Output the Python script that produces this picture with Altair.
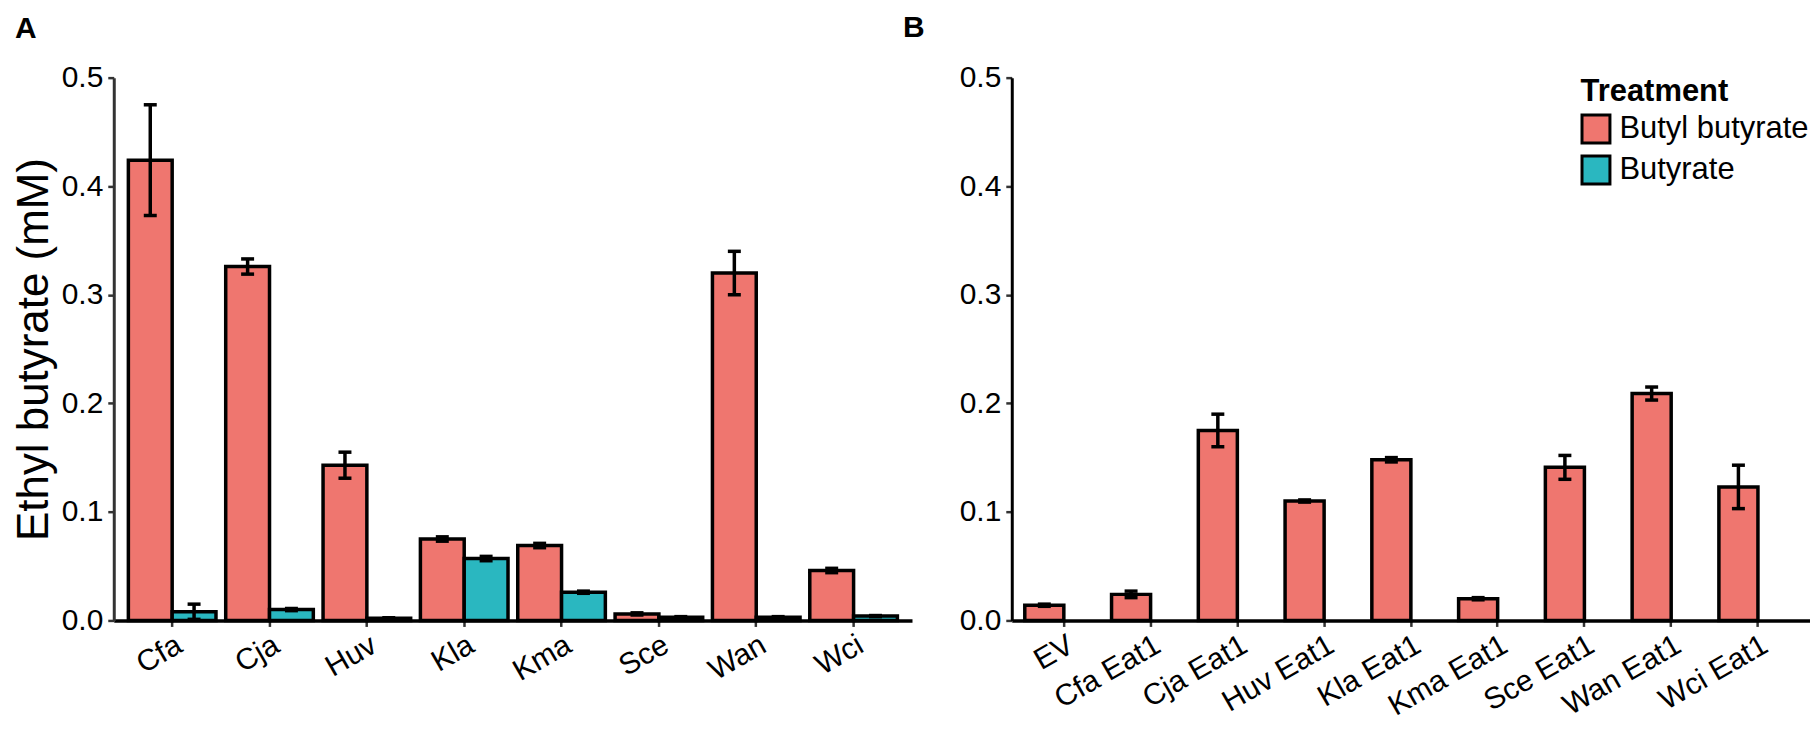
import altair as alt
import pandas as pd

# ---- data ----
species = ["Cfa", "Cja", "Huv", "Kla", "Kma", "Sce", "Wan", "Wci"]
bb_mean = [0.424, 0.326, 0.143, 0.075, 0.069, 0.006, 0.320, 0.046]
bb_err = [0.051, 0.007, 0.012, 0.002, 0.002, 0.001, 0.020, 0.002]
bu_mean = [0.008, 0.010, 0.002, 0.057, 0.026, 0.003, 0.003, 0.004]
bu_err = [0.007, 0.001, 0.0005, 0.002, 0.001, 0.0005, 0.0005, 0.0005]

strains = ["EV", "Cfa Eat1", "Cja Eat1", "Huv Eat1", "Kla Eat1",
           "Kma Eat1", "Sce Eat1", "Wan Eat1", "Wci Eat1"]
eat_mean = [0.014, 0.024, 0.175, 0.110, 0.148, 0.020, 0.141, 0.209, 0.123]
eat_err = [0.001, 0.003, 0.015, 0.001, 0.002, 0.001, 0.011, 0.006, 0.020]

treatments = ["Butyl butyrate", "Butyrate"]
colors = ["#EF766F", "#2AB7C0"]
y_ticks = [0.0, 0.1, 0.2, 0.3, 0.4, 0.5]

dfA = pd.DataFrame({
    "Strain": species * 2,
    "Treatment": [treatments[0]] * len(species) + [treatments[1]] * len(species),
    "mean": bb_mean + bu_mean,
    "err": bb_err + bu_err,
})
dfA["lo"] = dfA["mean"] - dfA["err"]
dfA["hi"] = dfA["mean"] + dfA["err"]

dfB = pd.DataFrame({
    "Strain": strains,
    "Treatment": [treatments[0]] * len(strains),
    "mean": eat_mean,
    "err": eat_err,
})
dfB["lo"] = dfB["mean"] - dfB["err"]
dfB["hi"] = dfB["mean"] + dfB["err"]

FONT = "Liberation Sans"
W, H = 800, 544


def panel(df, order, ytitle, ycolor, legend, extra=None):
    x = alt.X("Strain:N", sort=order,
              scale=alt.Scale(paddingInner=0.1, paddingOuter=0.15),
              axis=alt.Axis(title=None, labelAngle=330, labelAlign="right",
                            labelBaseline="top", labelFontSize=30, labelFont=FONT,
                            labelColor="black", labelPadding=3,
                            domainColor="black", domainWidth=3.5,
                            tickColor="#333333", tickWidth=2.5, tickSize=6))
    yaxis = alt.Axis(values=y_ticks, format=".1f", title=ytitle,
                     titleFontSize=44, titleFont=FONT, titleFontWeight="normal",
                     titleColor="black", titlePadding=5,
                     labelFontSize=30, labelFont=FONT, labelColor="black",
                     labelPadding=5, domainColor=ycolor, domainWidth=3,
                     tickColor="#333333", tickWidth=2.5, tickSize=6, grid=False)
    yscale = alt.Scale(domain=[0, 0.5], nice=False, zero=True)
    xoff = alt.XOffset("Treatment:N", sort=treatments,
                       scale=alt.Scale(domain=treatments, paddingInner=0, paddingOuter=0))
    color = alt.Color("Treatment:N", title="Treatment",
                      scale=alt.Scale(domain=treatments, range=colors), legend=legend)
    base = alt.Chart(df)
    bars = base.mark_bar(stroke="black", strokeWidth=3.5).encode(
        x=x, xOffset=xoff, y=alt.Y("mean:Q", scale=yscale, axis=yaxis), color=color)
    rules = base.mark_rule(color="black", strokeWidth=3.5).encode(
        x=x, xOffset=xoff, y=alt.Y("lo:Q", scale=yscale, axis=yaxis), y2="hi:Q")
    cap_hi = base.mark_tick(color="black", thickness=3.5, size=13, opacity=1).encode(
        x=x, xOffset=xoff, y=alt.Y("hi:Q", scale=yscale, axis=yaxis))
    cap_lo = base.mark_tick(color="black", thickness=3.5, size=13, opacity=1).encode(
        x=x, xOffset=xoff, y=alt.Y("lo:Q", scale=yscale, axis=yaxis))
    layers = [bars, rules, cap_hi, cap_lo]
    if extra:
        layers += extra
    return alt.layer(*layers).properties(width=W, height=H)


labA = alt.Chart(alt.Data(values=[{}])).mark_text(
    text="A", font=FONT, fontSize=30, fontWeight="bold", align="left",
    baseline="alphabetic", color="black").encode(x=alt.value(-99), y=alt.value(-40))
labB = alt.Chart(alt.Data(values=[{}])).mark_text(
    text="B", font=FONT, fontSize=30, fontWeight="bold", align="left",
    baseline="alphabetic", color="black").encode(x=alt.value(791), y=alt.value(-41))

legendB = alt.Legend(orient="none", legendX=570, legendY=-1,
                     titleFontSize=31, titleFont=FONT, titleFontWeight="bold",
                     titleColor="black", titlePadding=6,
                     labelFontSize=31, labelFont=FONT, labelColor="black",
                     labelOffset=8, labelLimit=0, symbolType="square", symbolSize=784,
                     symbolStrokeColor="black", symbolStrokeWidth=3,
                     rowPadding=0, padding=0, symbolOpacity=1)

pA = panel(dfA, species, "Ethyl butyrate (mM)", "#333333", None, [labA, labB])
pB = panel(dfB, strains, None, "black", legendB)

chart = alt.hconcat(pA, pB, spacing=34).resolve_scale(
    color="independent", x="independent", y="independent", xOffset="independent"
).resolve_legend(color="independent").properties(
    padding={"left": 4, "top": 4, "right": 0, "bottom": 0},
    background="white"
).configure_view(strokeWidth=0, stroke=None)

chart.save("out.html", embed_options={"renderer": "svg", "actions": False})
